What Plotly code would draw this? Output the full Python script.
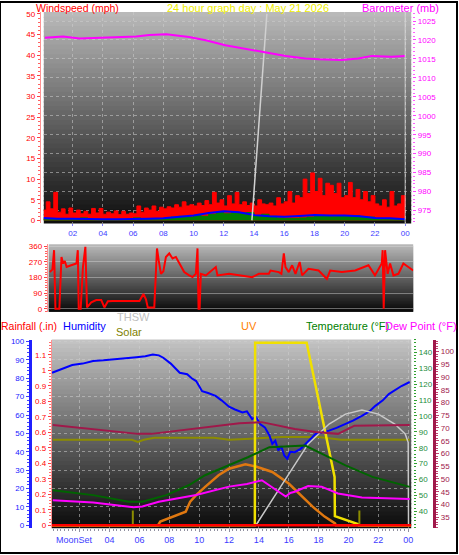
import plotly.graph_objects as go
import numpy as np

W, H = 459, 555
def px(x): return x / W
def py(y): return 1 - y / H

# ---------------- DATA ----------------
hour_ticks = [2, 4, 6, 8, 10, 12, 14, 16, 18, 20, 22, 24]
hour_labels = ["02", "04", "06", "08", "10", "12", "14", "16", "18", "20", "22", "00"]

# windspeed (mph), 15-minute steps from 00:00
wind_gust = [2.5, 4.5, 2.8, 6.8, 2.0, 2.8, 1.5, 3.0, 1.8, 2.5, 1.6, 2.2,
             1.5, 2.9, 1.8, 2.9, 1.5, 2.0, 1.6, 2.3, 1.4, 2.2, 1.5, 1.8,
             1.6, 3.5, 2.0, 3.0, 2.5, 3.5, 2.2, 3.2, 2.8, 3.3, 3.0, 3.8,
             3.2, 4.5, 3.5, 3.8, 3.5, 4.2, 3.6, 4.8, 3.8, 6.8, 4.2, 5.0,
             3.5, 6.0, 4.0, 6.8, 3.8, 4.5, 3.6, 4.2, 3.5, 5.0, 4.0, 3.8,
             4.2, 3.5, 5.5, 4.0, 4.5, 7.0, 4.2, 6.0, 5.5, 10.0, 6.5, 11.5,
             7.0, 10.2, 6.0, 9.0, 8.5, 6.5, 9.0, 5.5, 6.0, 9.2, 5.5, 7.5,
             5.0, 7.0, 4.5, 6.0, 4.0, 3.5, 5.0, 3.2, 7.0, 3.5, 4.0, 6.0, 3.5]
# average wind (mph), hourly
wind_avg = [0.6, 0.4, 0.4, 0.3, 0.3, 0.3, 0.3, 0.4, 0.5, 0.8, 1.2, 1.8, 2.2,
            2.0, 1.3, 1.0, 0.9, 1.1, 1.3, 1.2, 1.2, 1.0, 0.6, 0.5, 0.3]
# wind speed bars (mph), 30-minute steps
wind_speed = [0.3, 0.2, 0.2, 0.2, 0.2, 0.6, 0.2, 0.2, 0.2, 0.2, 0.2, 0.2,
              0.6, 0.3, 0.3, 0.3, 0.5, 0.8, 1.0, 0.8, 1.2, 1.0, 1.5, 1.9,
              1.6, 2.0, 1.8, 1.9, 1.2, 1.5, 1.0, 0.6, 0.5, 0.5, 0.6, 0.8,
              1.0, 1.2, 0.9, 1.1, 1.0, 1.2, 0.9, 0.8, 0.5, 0.3, 0.2, 0.2, 0.2]

baro_hours = [0.16, 1.36, 2.46, 4.2, 6.2, 7.07, 8.2, 9.7, 10.8, 12.1, 13.4,
              14.8, 16.1, 17.4, 18.3, 19.8, 20.9, 21.8, 23.1, 24.0]
baro_mb = [1020.6, 1020.9, 1020.4, 1020.7, 1020.9, 1021.3, 1021.5, 1020.8,
           1019.9, 1018.6, 1017.6, 1016.7, 1015.8, 1015.1, 1014.9, 1014.7,
           1015.1, 1015.8, 1015.6, 1015.8]

spike_hours = [13.86, 14.85]
spike_vals = [0, 50]

dir_hours = [0.49, 0.66, 0.77, 0.86, 1.03, 1.12, 1.26, 1.37, 1.48, 1.6, 1.9, 2.25,
             2.34, 2.4, 2.53, 2.68, 2.84, 2.95, 3.23, 3.56, 3.89, 4.1, 4.33, 4.66,
             6.42, 6.68, 6.85, 6.97, 7.4, 7.51, 7.58, 7.69, 7.84, 8.0, 8.17, 8.39,
             8.61, 8.83, 9.16, 9.38, 9.71, 9.93, 10.15, 10.26, 10.33, 10.4, 10.48,
             10.81, 11.47, 11.58, 12.35, 13.0, 13.88, 14.32, 14.98, 15.09, 15.64,
             15.81, 15.97, 16.08, 16.3, 16.52, 16.74, 17.02, 17.18, 17.6, 18.27,
             18.82, 19.04, 19.81, 20.69, 21.57, 22.0, 22.45, 22.51, 22.58, 22.67,
             22.84, 23.0, 23.22, 23.55, 23.88, 24.2, 24.53]
dir_deg = [211, 225, 337, 0, 0, 0, 298, 260, 275, 240, 250, 260,
           337, 0, 0, 240, 356, 8, 37, 50, 50, 8, 43, 45,
           45, 85, 55, 8, 8, 182, 347, 279, 201, 215, 298, 318,
           289, 298, 250, 211, 192, 182, 201, 347, 0, 0, 201,
           192, 240, 192, 201, 192, 182, 201, 201, 220, 211,
           201, 318, 240, 211, 250, 201, 269, 192, 230, 220,
           172, 220, 211, 220, 250, 192, 260, 337, 0, 337,
           201, 260, 192, 201, 260, 240, 220]
dir_ticks = [0, 90, 180, 270, 360]
dir_letters = ["N", "E", "S", "W", "N"]

hum_hours = [0.15, 0.8, 1.5, 2.2, 2.9, 3.6, 4.4, 5.1, 5.8, 6.4, 6.9, 7.3, 7.6, 8.1,
             8.7, 9.2, 9.5, 9.8, 10.2, 10.6, 11.1, 11.5, 12.0, 12.4, 12.9, 13.2,
             13.55, 13.8, 14.1, 14.4, 14.7, 14.9, 15.1, 15.3, 15.5, 15.7, 15.9,
             16.1, 16.4, 16.8, 17.1, 17.3, 17.6, 17.8, 18.2, 18.7, 19.2, 19.8,
             20.3, 20.9, 21.4, 21.8, 22.3, 22.7, 23.1, 23.55, 24.1]
hum_vals = [83, 85, 87.2, 88, 89.4, 89.8, 90.3, 90.8, 91.5, 92, 93, 92.5, 91.2, 88,
            83, 82.2, 80, 78.5, 73, 72, 70.4, 68, 64.5, 63, 61.4, 62,
            57.8, 59, 55, 53.3, 49, 44.3, 46, 40.7, 43, 38, 36.2,
            40, 39.8, 41.6, 44, 46.1, 48, 49.7, 50.5, 51.5, 53, 55.1,
            57, 59.6, 62, 65, 68, 71.4, 73.5, 75.8, 78]

temp_hours = [0.2, 2.9, 5.3, 6.2, 7.8, 9.3, 10.4, 12.0, 13.3, 14.7, 16.4, 17.1,
              18.2, 19.8, 21.6, 24.1]
temp_vals = [53.3, 50.2, 46.1, 46.1, 50.2, 56.4, 62.7, 68.9, 74.2, 80.4, 81.4,
             81.4, 76.3, 68.9, 61.7, 55.4]

dew_hours = [0.2, 2.9, 5.6, 6.2, 7.3, 9.8, 12.0, 13.2, 14.2, 14.7, 15.1, 15.5,
             15.8, 16.1, 16.4, 17.3, 18.2, 19.3, 20.9, 24.1]
dew_vals = [41.7, 40.8, 38.9, 39.2, 41.1, 43.7, 47.0, 48.0, 49.5, 47.5, 45.6,
            44.0, 43.1, 44.5, 45.0, 47.2, 47.0, 44.3, 42.7, 42.1]

in_temp_hours = [0.2, 5.9, 6.8, 12.0, 12.7, 14.2, 16.4, 17.8, 19.3, 20.4, 24.1]
in_temp_vals = [71.2, 67.7, 67.7, 71.6, 71.9, 72.3, 69.6, 68.4, 67.7, 70.9, 71.2]

in_hum_hours = [0.2, 5.5, 5.9, 6.3, 7.0, 11.0, 12.0, 15.5, 18.0, 19.5, 24.1]
in_hum_vals = [46.5, 46.5, 45.3, 46.5, 47.6, 47.6, 46.5, 48.0, 48.0, 46.5, 46.5]

uv_hours = [0.1, 7.25, 7.4, 9.1, 9.4, 9.8, 10.4, 11.3, 12.0, 13.1, 13.8, 14.9,
            16.0, 16.9, 17.6, 18.4, 19.1, 19.15, 24.2]
uv_vals = [0, 0, 2, 7.4, 12.8, 16.4, 20.9, 27.2, 30.8, 33.2, 32, 29,
           22.7, 15.5, 10.1, 4.7, 1, 0, 0]

solar_hours = [0.1, 13.73, 13.75, 17.2, 19.07, 19.09, 20.67, 20.7, 24.2]
solar_vals = [0, 0, 99.3, 99.3, 26.3, 5, 0.5, 0, 0]

thsw_hours = [13.8, 14.9, 16.0, 17.3, 18.7, 19.8, 20.9, 22.0, 23.1, 23.8, 24.0, 24.02]
thsw_vals = [0, 13.7, 28.1, 44.3, 55.1, 60.5, 62.7, 60.5, 55.1, 49.7, 45, 0]

rain_hours = [0.1, 24.2]
rain_in = [0, 0]

sun_marker_hours = [5.56, 20.73]
sun_marker_height = 8

# ---------------- FIGURE ----------------
fig = go.Figure()
t15 = np.arange(len(wind_gust)) * 0.25
t60 = np.arange(len(wind_avg)) * 1.0
t30 = np.arange(len(wind_speed)) * 0.5

fig.add_trace(go.Scatter(x=t15, y=wind_gust, mode="lines", line=dict(color="#ff0000", width=1, shape="hv"),
                         fill="tozeroy", fillcolor="#ff0000", xaxis="x", yaxis="y"))
fig.add_trace(go.Scatter(x=t30, y=wind_speed, mode="lines", line=dict(color="#008000", width=1, shape="hv"),
                         fill="tozeroy", fillcolor="#008000", xaxis="x", yaxis="y"))
fig.add_trace(go.Scatter(x=t60, y=wind_avg, mode="lines", line=dict(color="#0000ff", width=2),
                         xaxis="x", yaxis="y"))
fig.add_trace(go.Scatter(x=baro_hours, y=baro_mb, mode="lines", line=dict(color="#ff00ff", width=2),
                         xaxis="x", yaxis="y3"))
fig.add_trace(go.Scatter(x=spike_hours, y=spike_vals, mode="lines", line=dict(color="#d0d0d0", width=1.5),
                         xaxis="x", yaxis="y"))

fig.add_trace(go.Scatter(x=dir_hours, y=dir_deg, mode="lines", line=dict(color="#ff0000", width=2),
                         xaxis="x2", yaxis="y4"))

fig.add_trace(go.Scatter(x=in_temp_hours, y=in_temp_vals, mode="lines", line=dict(color="#a0184a", width=2),
                         xaxis="x3", yaxis="y9"))
fig.add_trace(go.Scatter(x=in_hum_hours, y=in_hum_vals, mode="lines", line=dict(color="#8c8c00", width=2),
                         xaxis="x3", yaxis="y6"))
fig.add_trace(go.Scatter(x=dew_hours, y=dew_vals, mode="lines", line=dict(color="#ff00ff", width=2),
                         xaxis="x3", yaxis="y9"))
fig.add_trace(go.Scatter(x=temp_hours, y=temp_vals, mode="lines", line=dict(color="#006400", width=2),
                         xaxis="x3", yaxis="y8"))
fig.add_trace(go.Scatter(x=hum_hours, y=hum_vals, mode="lines", line=dict(color="#0000ff", width=2),
                         xaxis="x3", yaxis="y6"))
fig.add_trace(go.Scatter(x=rain_hours, y=rain_in, mode="lines", line=dict(color="#ff0000", width=2.5),
                         xaxis="x3", yaxis="y7"))
fig.add_trace(go.Scatter(x=uv_hours, y=uv_vals, mode="lines", line=dict(color="#e07810", width=2.5),
                         xaxis="x3", yaxis="y6"))
fig.add_trace(go.Scatter(x=solar_hours, y=solar_vals, mode="lines", line=dict(color="#f0e000", width=2.5),
                         xaxis="x3", yaxis="y6"))
fig.add_trace(go.Scatter(x=thsw_hours, y=thsw_vals, mode="lines", line=dict(color="#c8c8c8", width=1.5),
                         xaxis="x3", yaxis="y6"))
mk_x, mk_y = [], []
for h in sun_marker_hours:
    mk_x += [h, h, None]
    mk_y += [0, sun_marker_height, None]
fig.add_trace(go.Scatter(x=mk_x, y=mk_y, mode="lines", line=dict(color="#8c8c00", width=2),
                         xaxis="x3", yaxis="y6"))

# ---------------- BACKGROUNDS ----------------
shapes = []
def gradient(x0, x1, y0, y1, ctop, cbot, n=45):
    step = (y1 - y0) / n
    for i in range(n):
        f = i / (n - 1)
        c = int(ctop + (cbot - ctop) * f)
        ya = y0 + step * i
        yb = min(y1, ya + step + 1.5)
        shapes.append(dict(type="rect", xref="paper", yref="paper", layer="below",
                           x0=px(x0), x1=px(x1), y0=py(yb), y1=py(ya),
                           fillcolor=f"rgb({c},{c},{c})", line=dict(width=0)))
gradient(44, 413, 10, 223, 185, 15)
gradient(49, 415, 244, 312, 185, 10)
gradient(52, 413, 340, 530, 195, 12)
shapes.append(dict(type="line", xref="x", yref="paper", x0=24, x1=24, y0=py(223), y1=py(10),
                   line=dict(color="rgba(220,220,220,0.8)", width=1)))
shapes.append(dict(type="rect", xref="paper", yref="paper", x0=0, x1=1, y0=0, y1=1,
                   line=dict(color="#000000", width=2)))

FONT = "Liberation Sans, Arial, sans-serif"
grid = dict(showgrid=True, gridcolor="rgba(205,205,205,0.55)", griddash="dot", gridwidth=1)

def yax(**kw):
    d = dict(zeroline=False, showgrid=False, anchor="free", ticks="outside", ticklen=3,
             tickfont=dict(family=FONT, size=8))
    d.update(kw)
    return d

layout = dict(
    width=W, height=H, margin=dict(l=0, r=0, t=0, b=0),
    paper_bgcolor="white", plot_bgcolor="rgba(0,0,0,0)", showlegend=False,
    font=dict(family=FONT),
    xaxis=dict(domain=[px(44), px(413)], range=[0.09, 24.4], anchor="y", tickvals=hour_ticks,
               ticktext=hour_labels, ticks="outside", ticklen=2, tickcolor="#8080ff",
               tickfont=dict(family=FONT, size=8, color="#3c3cff"), zeroline=False, showline=False, **grid),
    yaxis=yax(domain=[py(223), py(10)], range=[-0.72, 50.48], position=px(40), side="left",
              tickvals=list(range(0, 51, 5)), tickfont=dict(family=FONT, size=8, color="#ff0000"),
              tickcolor="#ff4040", showline=True, linecolor="#ff9090", linewidth=1,
              minor=dict(dtick=1, ticklen=2, tickcolor="#ff6060", ticks="outside")),
    yaxis2=yax(overlaying="y", range=[30, 148.3], position=px(22), side="left",
               tickvals=list(range(40, 141, 10)), tickfont=dict(family=FONT, size=8, color="#b4b4c8"),
               tickcolor="#c0c0c0", showline=True, linecolor="#c8c8c8", linewidth=3,
               minor=dict(dtick=2, ticklen=2, tickcolor="#c0c0c0", ticks="outside")),
    yaxis3=yax(overlaying="y", range=[971.6, 1027.4], position=px(414), side="right",
               tickvals=list(range(975, 1026, 5)), tickfont=dict(family=FONT, size=8, color="#ff00ff"),
               tickcolor="#ff40ff", showline=False,
               minor=dict(dtick=1, ticklen=2, tickcolor="#ff60ff", ticks="outside"), **grid),
    xaxis2=dict(domain=[px(49), px(415)], range=[0.42, 24.53], anchor="y4", showticklabels=False,
                ticks="", showgrid=False, zeroline=False),
    yaxis4=yax(domain=[py(312), py(244)], range=[-17, 371], position=px(47), side="left",
               tickvals=dir_ticks, tickfont=dict(family=FONT, size=8, color="#ff0000"),
               tickcolor="#ff4040", showline=True, linecolor="#ff9090",
               minor=dict(dtick=15, ticklen=2, tickcolor="#ff6060", ticks="outside"),
               showgrid=True, gridcolor="rgba(215,215,215,0.45)", gridwidth=1),
    yaxis5=yax(overlaying="y4", range=[-17, 371], position=px(424), side="right",
               tickvals=dir_ticks, ticktext=dir_letters, ticks="", showline=False,
               tickfont=dict(family=FONT, size=13, color="#ff0000")),
    xaxis3=dict(domain=[px(52), px(413)], range=[0.133, 24.2], anchor="y6", tickvals=hour_ticks,
                ticktext=[""] + hour_labels[1:], ticks="outside", ticklen=3, tickcolor="#9090a0",
                minor=dict(dtick=0.25, ticklen=2, tickcolor="#9090a0", ticks="outside"),
                tickfont=dict(family=FONT, size=9, color="#3c3cff"), zeroline=False, **grid),
    yaxis6=yax(domain=[py(530), py(340)], range=[-1.6, 101.1], position=px(30), side="left",
               tickvals=list(range(0, 101, 10)), tickfont=dict(family=FONT, size=8, color="#2020ff"),
               tickcolor="#4040ff", showline=True, linecolor="#2020ff", linewidth=3,
               minor=dict(dtick=2, ticklen=2, tickcolor="#4040ff", ticks="outside"), **grid),
    yaxis7=yax(overlaying="y6", range=[-0.019, 1.199], position=px(51), side="left",
               tickvals=[0, 0.1, 0.2, 0.3, 0.4, 0.5, 0.6, 0.7, 0.8, 0.9, 1.0, 1.1, 1.2],
               ticktext=["0", "0.1", "0.2", "0.3", "0.4", "0.5", "0.6", "0.7", "0.8", "0.9", "1", "1.1", "1.2"],
               tickfont=dict(family=FONT, size=8, color="#ff0000"), tickcolor="#ff4040",
               showline=True, linecolor="#ff9090",
               minor=dict(dtick=0.02, ticklen=2, tickcolor="#ff7070", ticks="outside")),
    yaxis8=yax(overlaying="y6", range=[29.4, 148.1], position=px(415), side="right",
               tickvals=list(range(40, 141, 10)), tickfont=dict(family=FONT, size=8, color="#1e8c3c"),
               tickcolor="#30a030", showline=False,
               minor=dict(dtick=2, ticklen=2, tickcolor="#30a030", ticks="outside")),
    yaxis9=yax(overlaying="y6", range=[30.7, 104.7], position=px(436), side="right",
               tickvals=list(range(35, 101, 5)), tickfont=dict(family=FONT, size=8, color="#a0184a"),
               tickcolor="#c04070", showline=True, linecolor="#a0184a", linewidth=3,
               minor=dict(dtick=1, ticklen=2, tickcolor="#c04070", ticks="outside")),
    shapes=shapes,
)
fig.update_layout(**layout)

def label(text, x, y, color, size=11):
    fig.add_annotation(text=text, x=px(x), y=py(y), xref="paper", yref="paper", showarrow=False,
                       font=dict(family=FONT, size=size, color=color), xanchor="center", yanchor="middle")

label("Windspeed (mph)", 78, 6, "#ff0000", size=10.5)
label("24 hour graph day : May 21 2026", 249, 6, "#eeee00")
label("Barometer (mb)", 402, 6, "#ff00ff")
label("Rainfall (.in)", 29, 326, "#ff0000", size=10.5)
label("Humidity", 85, 326, "#0000ff")
label("THSW", 134, 317, "#c0c0c0")
label("Solar", 130, 332, "#808000")
label("UV", 250, 326, "#ff8000")
label("Temperature (°F)", 349, 326, "#008000")
label("Dew Point (°F)", 423, 326, "#ff00ff")
label("MoonSet", 75, 542, "#3c3cff", size=9)

fig.write_html("out.html", config={"displayModeBar": False},
               post_script="document.body.style.margin='0';document.body.style.overflow='hidden';")
